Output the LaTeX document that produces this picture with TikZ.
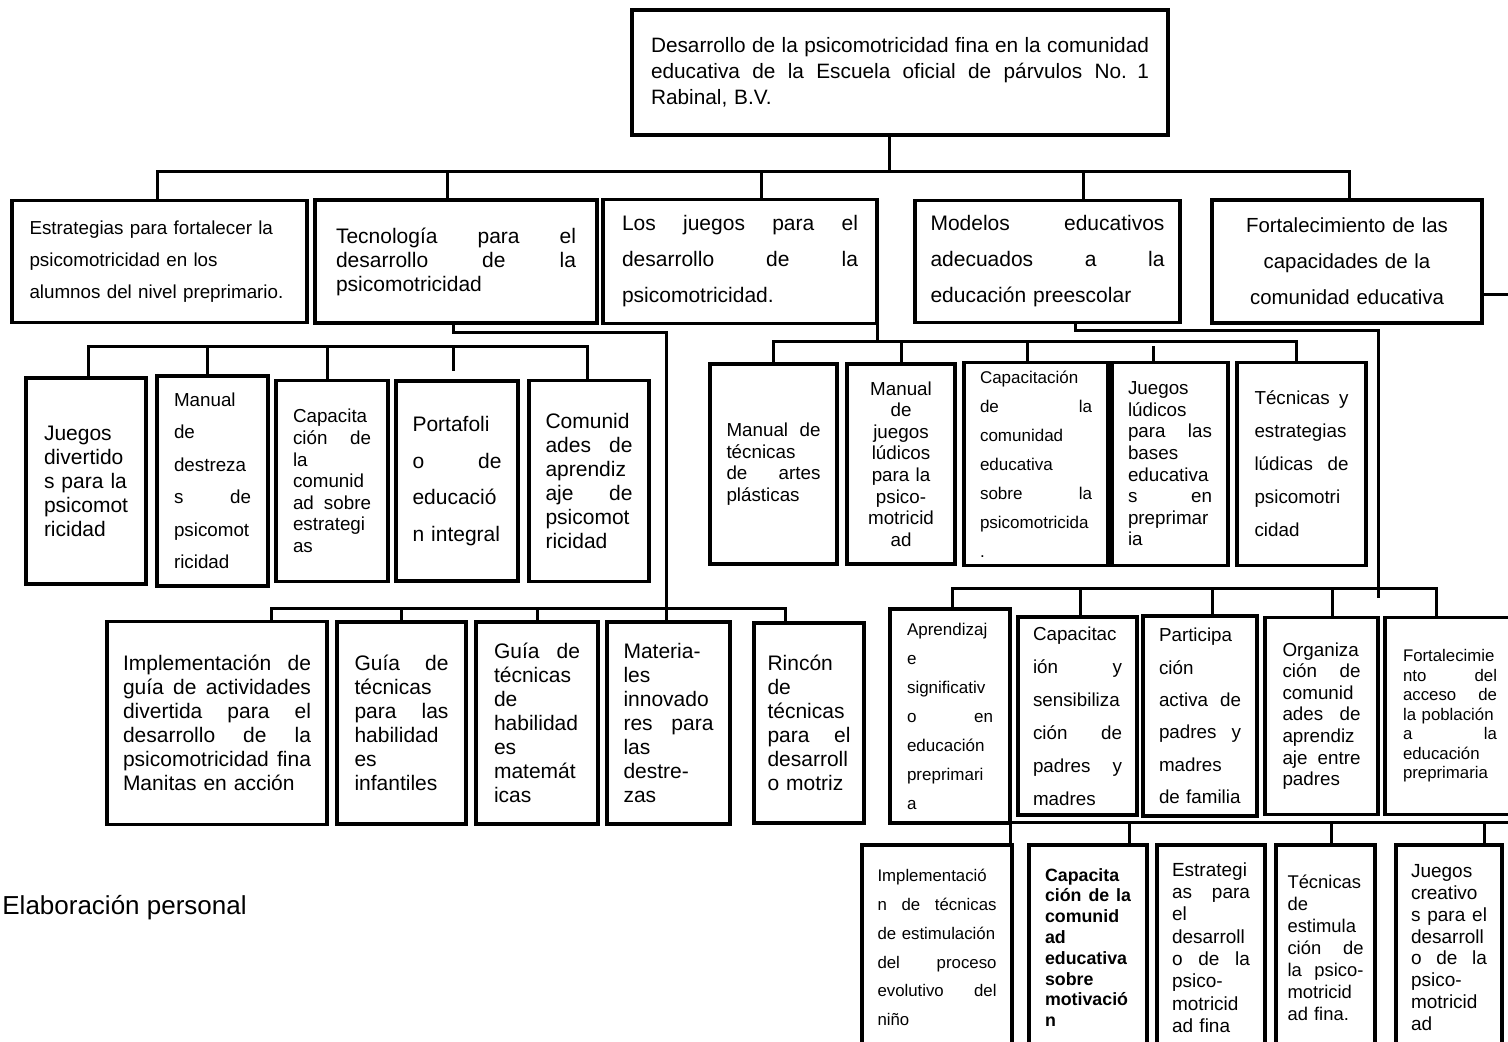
\documentclass[tikz,border=0pt]{standalone}
\usepackage{fontspec}
\setmainfont{Liberation Sans}
\usetikzlibrary{positioning}

\newcommand\fsz[2]{\fontsize{#1}{#2}\selectfont}
\newcommand\jl[1]{\makebox[\hsize][s]{\spaceskip=0.28em plus 1fil\relax #1}}

\begin{document}
\begin{tikzpicture}[x=0.5pt, y=-0.5pt, node distance=4pt,
  box/.style={draw, line width=1.8pt, outer sep=0pt, inner sep=0pt, align=left},
  link/.style={line width=1.5pt}]
  \useasboundingbox (0,0) rectangle (1508,1042);
  \clip (0,0) rectangle (1508,1042);

  % title
  \node[box, minimum width=268pt, minimum height=62.5pt, text width=249pt, font=\fsz{10.4}{13}] (T) at (900,72.5)
    {\jl{Desarrollo de la psicomotricidad fina en la comunidad}\\ \jl{educativa de la Escuela oficial de párvulos No. 1}\\ Rabinal, B.V.};

  % first level
  \node[box, minimum width=147.5pt, minimum height=61pt, text width=130pt, font=\fsz{9.4}{16}] (B1) at (159.5,261.5)
    {Estrategias para fortalecer la\\ psicomotricidad en los\\ alumnos del nivel preprimario.};
  \node[box, minimum width=141pt, minimum height=61.5pt, text width=120pt, font=\fsz{10.5}{12}, right=of B1] (B2)
    {\jl{Tecnología para el}\\ \jl{desarrollo de la}\\ psicomotricidad};
  \node[box, minimum width=137pt, minimum height=62pt, text width=118pt, font=\fsz{10.5}{18}, right=3pt of B2] (B3)
    {\jl{Los juegos para el}\\ \jl{desarrollo de la}\\ psicomotricidad.};
  \node[box, minimum width=132.5pt, minimum height=61pt, text width=117pt, font=\fsz{10.5}{18}, right=19pt of B3] (B4)
    {\jl{Modelos educativos}\\ \jl{adecuados a la}\\ educación preescolar};
  \node[box, minimum width=135pt, minimum height=61.5pt, text width=120pt, align=center, font=\fsz{10.2}{18}, right=16pt of B4] (B5)
    {Fortalecimiento de las\\ capacidades de la\\ comunidad educativa};

  % Tecnologia, first set
  \node[box, minimum width=60pt, minimum height=103pt, text width=42pt, font=\fsz{10.5}{12}] (L1) at (86,481)
    {Juegos\\ divertido\\ s para la\\ psicomot\\ ricidad};
  \node[box, minimum width=55.5pt, minimum height=105pt, text width=38.5pt, font=\fsz{9.4}{16.25}, right=5.5pt of L1] (L2)
    {Manual\\ de\\ destreza\\ \jl{s de}\\ psicomot\\ ricidad};
  \node[box, minimum width=56pt, minimum height=100.5pt, text width=39pt, font=\fsz{9.4}{10.8}, right=of L2] (L3)
    {Capacita\\ \jl{ción de}\\ la\\ comunid\\ \jl{ad sobre}\\ estrategi\\ as};
  \node[box, minimum width=61pt, minimum height=100pt, text width=44.5pt, font=\fsz{10.5}{18.25}, right=of L3] (L4)
    {Portafoli\\ \jl{o de}\\ educació\\ n integral};
  \node[box, minimum width=60pt, minimum height=100.5pt, text width=43.5pt, font=\fsz{10.5}{12}, right=5.5pt of L4] (L5)
    {Comunid\\ \jl{ades de}\\ aprendiz\\ \jl{aje de}\\ psicomot\\ ricidad};

  % Tecnologia, second set
  \node[box, minimum width=110pt, minimum height=101.5pt, text width=94pt, font=\fsz{10.5}{12}] (P1) at (217,723)
    {\jl{Implementación de}\\ \jl{guía de actividades}\\ \jl{divertida para el}\\ \jl{desarrollo de la}\\ \jl{psicomotricidad fina}\\ Manitas en acción};
  \node[box, minimum width=64.5pt, minimum height=101pt, text width=47pt, font=\fsz{10.5}{12}, right=5pt of P1] (P2)
    {\jl{Guía de}\\ técnicas\\ \jl{para las}\\ habilidad\\ es\\ infantiles};
  \node[box, minimum width=61pt, minimum height=101pt, text width=43pt, font=\fsz{10.5}{12}, right=5pt of P2] (P3)
    {\jl{Guía de}\\ técnicas\\ de\\ habilidad\\ es\\ matemát\\ icas};
  \node[box, minimum width=61.5pt, minimum height=101pt, text width=45pt, font=\fsz{10.5}{12}, right=4.5pt of P3] (P4)
    {Materia-\\ les\\ innovado\\ \jl{res para}\\ las\\ destre-\\ zas};
  \node[box, minimum width=55pt, minimum height=100pt, text width=41.5pt, font=\fsz{10.5}{12}, right=12pt of P4] (P5)
    {Rincón\\ de\\ técnicas\\ \jl{para el}\\ desarroll\\ o motriz};

  % Los juegos
  \node[box, minimum width=63.5pt, minimum height=100pt, text width=47pt, font=\fsz{9.4}{10.8}] (R1) at (773.5,464)
    {\jl{Manual de}\\ técnicas\\ \jl{de artes}\\ plásticas};
  \node[box, minimum width=54pt, minimum height=100pt, text width=44pt, align=center, font=\fsz{9.4}{10.8}, right=5pt of R1] (R2)
    {Manual\\ de\\ juegos\\ lúdicos\\ para la\\ psico-\\ motricid\\ ad};
  \node[box, minimum width=72pt, minimum height=101.5pt, text width=56pt, font=\fsz{8.5}{14.5}, right=4.5pt of R2] (R3)
    {Capacitación\\ \jl{de la}\\ comunidad\\ educativa\\ \jl{sobre la}\\ psicomotricida\\ .};
  \node[box, minimum width=58pt, minimum height=101.5pt, text width=42pt, font=\fsz{9.4}{10.8}, right=2pt of R3] (R4)
    {Juegos\\ lúdicos\\ \jl{para las}\\ bases\\ educativa\\ \jl{s en}\\ preprimar\\ ia};
  \node[box, minimum width=64.5pt, minimum height=101.5pt, text width=47pt, font=\fsz{9.4}{16.5}, right=4.5pt of R4] (R5)
    {\jl{Técnicas y}\\ estrategias\\ \jl{lúdicas de}\\ psicomotri\\ cidad};

  % Modelos educativos
  \node[box, minimum width=60pt, minimum height=107pt, text width=43pt, font=\fsz{8.5}{14.5}] (M1) at (950,716)
    {Aprendizaj\\ e\\ significativ\\ \jl{o en}\\ educación\\ preprimari\\ a};
  \node[box, minimum width=59.5pt, minimum height=99pt, text width=44.5pt, font=\fsz{9.4}{16.5}, right=of M1] (M2)
    {Capacitac\\ \jl{ión y}\\ sensibiliza\\ \jl{ción de}\\ \jl{padres y}\\ madres};
  \node[box, minimum width=57pt, minimum height=100pt, text width=41pt, font=\fsz{9.4}{16.2}, right=3pt of M2] (M3)
    {Participa\\ ción\\ \jl{activa de}\\ \jl{padres y}\\ madres\\ de familia};
  \node[box, minimum width=56.5pt, minimum height=98.5pt, text width=39pt, font=\fsz{9.4}{10.8}, right=of M3] (M4)
    {Organiza\\ \jl{ción de}\\ comunid\\ \jl{ades de}\\ aprendiz\\ \jl{aje entre}\\ padres};
  \node[box, minimum width=65pt, minimum height=98.5pt, text width=47pt, font=\fsz{8.4}{9.75}, right=3.5pt of M4] (M5)
    {Fortalecimie\\ \jl{nto del}\\ \jl{acceso de}\\ la población\\ \jl{a la}\\ educación\\ preprimaria};

  % Fortalecimiento
  \node[box, minimum width=75pt, minimum height=102.5pt, text width=59.5pt, font=\fsz{8.4}{14.4}] (Q1) at (937,947.5)
    {Implementació\\ \jl{n de técnicas}\\ de estimulación\\ \jl{del proceso}\\ \jl{evolutivo del}\\ niño};
  \node[box, minimum width=59pt, minimum height=102.5pt, text width=43pt, font=\fsz{8.9}{10.4}\bfseries, right=8.5pt of Q1] (Q2)
    {Capacita\\ \jl{ción de la}\\ comunid\\ ad\\ educativa\\ sobre\\ motivació\\ n};
  \node[box, minimum width=54pt, minimum height=102.5pt, text width=39pt, font=\fsz{9.5}{11.15}, right=5pt of Q2] (Q3)
    {Estrategi\\ \jl{as para}\\ el\\ desarroll\\ \jl{o de la}\\ psico-\\ motricid\\ ad fina};
  \node[box, minimum width=49.5pt, minimum height=102.5pt, text width=38pt, font=\fsz{9.2}{11}, right=5.5pt of Q3] (Q4)
    {Técnicas\\ de\\ estimula\\ \jl{ción de}\\ \jl{la psico-}\\ motricid\\ ad fina.};
  \node[box, minimum width=53pt, minimum height=102.5pt, text width=38pt, font=\fsz{9.5}{10.9}, right=10.5pt of Q4] (Q5)
    {Juegos\\ creativo\\ \jl{s para el}\\ desarroll\\ \jl{o de la}\\ psico-\\ motricid\\ ad};

  \node[font=\fsz{13}{15}, anchor=west, inner sep=0pt] (src) at (2,908) {Elaboración personal};

  % title to first level
  \coordinate (j0) at (889,172);
  \draw[link] ([xshift=-5.5pt]T.south) -- (j0);
  \draw[link] ([xshift=-1.25pt]B1.north) |- ([xshift=1pt]B5.north |- j0) -- ([xshift=1pt]B5.north);
  \draw[link] ([xshift=-4.5pt]B2.north) -- ([xshift=-4.5pt]B2.north |- j0);
  \draw[link] ([xshift=10.5pt]B3.north) -- ([xshift=10.5pt]B3.north |- j0);
  \draw[link] ([xshift=17.75pt]B4.north) -- ([xshift=17.75pt]B4.north |- j0);

  % Tecnologia, first set
  \coordinate (j1) at (0,347);
  \draw[link] ([xshift=1pt]L1.north) |- ([xshift=-1pt]L5.north |- j1) -- ([xshift=-1pt]L5.north);
  \draw[link] ([xshift=-2.75pt]L2.north) -- ([xshift=-2.75pt]L2.north |- j1);
  \draw[link] ([xshift=-2.5pt]L3.north) -- ([xshift=-2.5pt]L3.north |- j1);
  \draw[link] ([xshift=-2pt,yshift=5pt]L4.north) -- ([xshift=-2pt]L4.north |- j1);

  % Tecnologia, second set
  \coordinate (j2) at (666,333);
  \coordinate (j3) at (0,608);
  \draw[link] ([xshift=-1.5pt]B2.south) |- (j2) -- (P4.north -| j2);
  \draw[link] ([xshift=27pt]P1.north) |- ([xshift=-12pt]P5.north |- j3) -- ([xshift=-12pt]P5.north);
  \draw[link] (P2.north) -- (P2.north |- j3);
  \draw[link] (P3.north) -- (P3.north |- j3);

  % Los juegos
  \coordinate (j4) at (0,342);
  \draw[link] (B3.south east) -- (B3.south east |- j4);
  \draw[link] (R1.north) |- ([xshift=-2.75pt]R5.north |- j4) -- ([xshift=-2.75pt]R5.north);
  \draw[link] (R2.north) -- (R2.north |- j4);
  \draw[link] ([xshift=-4.5pt]R3.north) -- ([xshift=-4.5pt]R3.north |- j4);
  \draw[link] ([xshift=-8.5pt]R4.north) -- ([xshift=-8.5pt,yshift=8pt]R4.north);

  % Modelos educativos
  \coordinate (j5) at (1378,331);
  \coordinate (j6) at (1378,598);
  \coordinate (j7) at (0,588);
  \draw[link] ([xshift=13.75pt]B4.south) |- (j5) -- (j6);
  \draw[link] ([xshift=1pt]M1.north) |- ([xshift=-7pt]M5.north |- j7) -- ([xshift=-7pt]M5.north);
  \draw[link] ([xshift=1.25pt]M2.north) -- ([xshift=1.25pt]M2.north |- j7);
  \draw[link] ([xshift=6pt]M3.north) -- ([xshift=6pt]M3.north |- j7);
  \draw[link] ([xshift=5.25pt]M4.north) -- ([xshift=5.25pt]M4.north |- j7);

  % Fortalecimiento
  \coordinate (j8) at (1520,822);
  \coordinate (j9) at (1520,295);
  \draw[link] (B5.east |- j9) -- (j9);
  \draw[link] ([xshift=-1pt]Q1.north east) |- (j8);
  \draw[link] ([xshift=20.5pt]Q2.north) -- ([xshift=20.5pt]Q2.north |- j8);
  \draw[link] ([xshift=2.75pt]Q4.north) -- ([xshift=2.75pt]Q4.north |- j8);
  \draw[link] ([xshift=17.5pt]Q5.north) -- ([xshift=17.5pt]Q5.north |- j8);
\end{tikzpicture}
\end{document}
